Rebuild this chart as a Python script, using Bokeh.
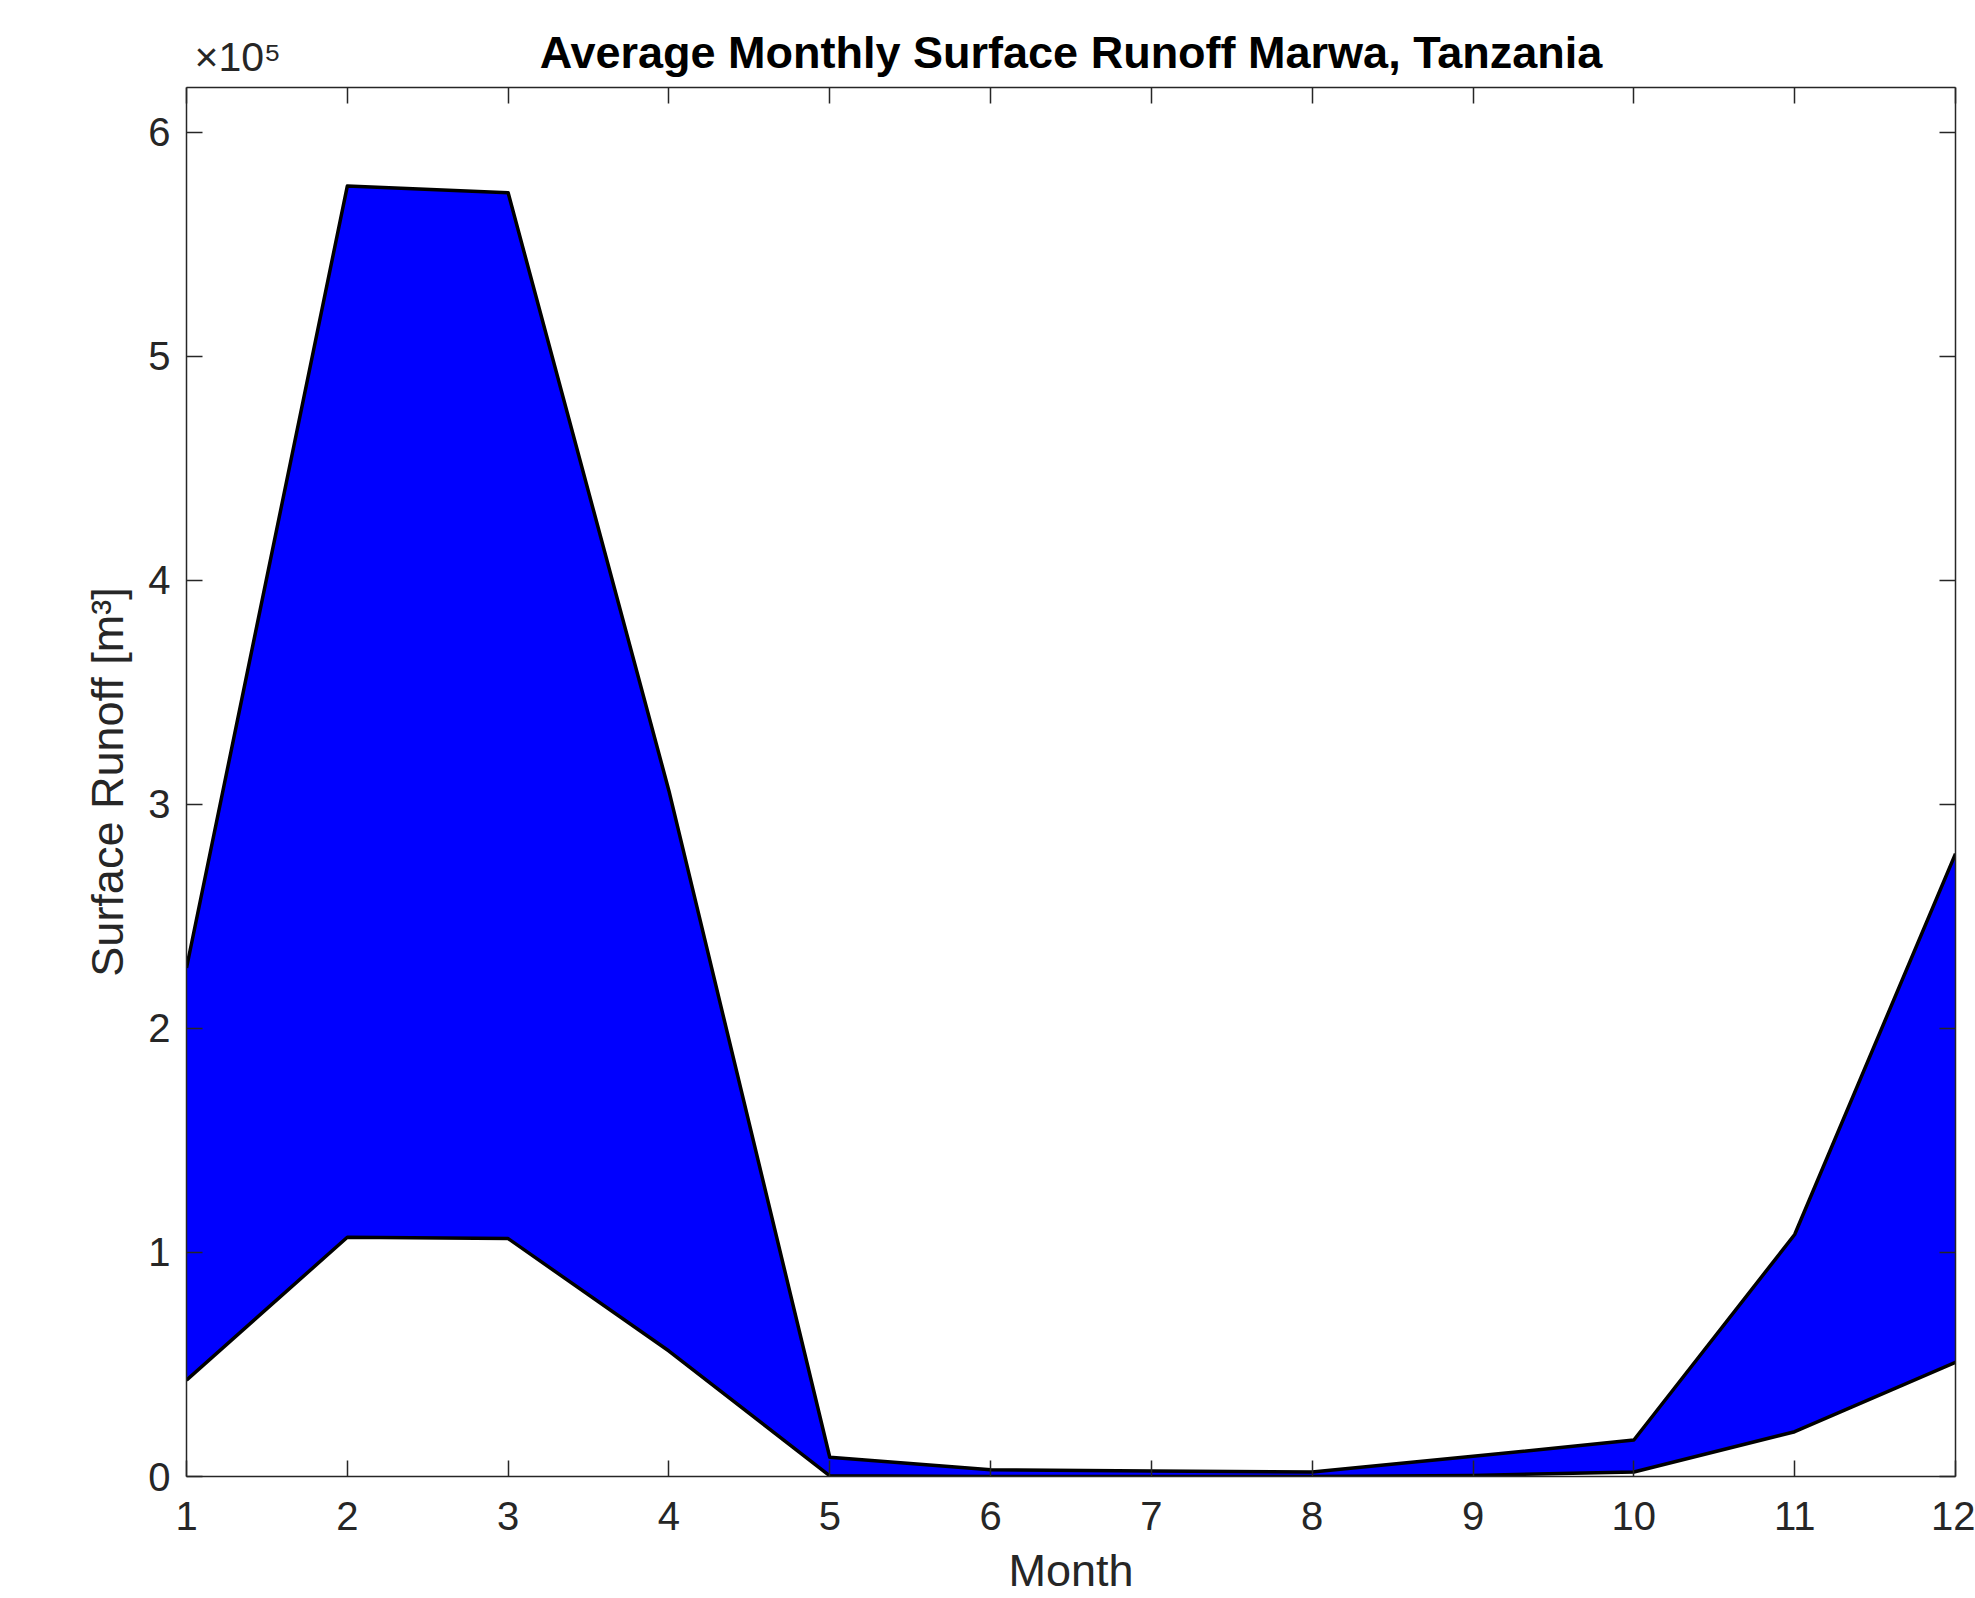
from bokeh.plotting import figure
from bokeh.models import Range1d, LinearAxis, FixedTicker
from bokeh.embed import file_html
from bokeh.resources import INLINE

# ---- data ----
months = [1, 2, 3, 4, 5, 6, 7, 8, 9, 10, 11, 12]
runoff_upper = [227000, 576000, 573000, 306000, 8600, 3000, 2400, 2000, 9000, 16300, 108000, 278000]
runoff_lower = [43000, 106800, 106200, 56000, 300, 0, 0, 0, 500, 2000, 20000, 51000]
y_ticks = [0, 100000, 200000, 300000, 400000, 500000, 600000]
y_tick_labels = ["0", "1", "2", "3", "4", "5", "6"]
x_ticks = months
title_text = "Average Monthly Surface Runoff Marwa, Tanzania"
x_label = "Month"
y_label = "Surface Runoff [m\u00b3]"
exponent_text = "\u00d710\u2075"

FONT = "Liberation Sans"
AX = "#262626"

p = figure(width=1975, height=1598,
           x_range=Range1d(1, 12), y_range=Range1d(0, 620000),
           output_backend="svg", toolbar_location=None,
           min_border_left=186, min_border_right=20,
           min_border_top=87, min_border_bottom=116)
p.outline_line_color = None
p.xgrid.visible = False
p.ygrid.visible = False
p.background_fill_color = "white"
p.border_fill_color = "white"

# filled band between the two runoff curves
p.varea(x=months, y1=runoff_lower, y2=runoff_upper, fill_color="#0000FF")
p.line(months, runoff_upper, line_color="black", line_width=3.5, line_join="round")
p.line(months, runoff_lower, line_color="black", line_width=3.5, line_join="round")

def style_axis(ax, ticks, labels=True):
    ax.ticker = FixedTicker(ticks=ticks)
    ax.axis_line_color = AX
    ax.axis_line_width = 1.5
    ax.major_tick_line_color = AX
    ax.major_tick_line_width = 1.5
    ax.major_tick_in = 16
    ax.major_tick_out = 0
    ax.minor_tick_line_color = None
    ax.major_label_text_font = FONT
    ax.axis_label_text_font = FONT
    ax.axis_label_text_color = AX
    ax.axis_label_text_font_style = "normal"
    if labels:
        ax.major_label_text_color = AX
        ax.major_label_text_font_size = "40px"
        ax.axis_label_text_font_size = "45px"
    else:
        ax.major_label_text_color = None
        ax.major_label_text_font_size = "1px"
        ax.major_label_standoff = 0

xa = p.xaxis[0]
style_axis(xa, x_ticks)
xa.axis_label = x_label
xa.major_label_standoff = 25
xa.axis_label_standoff = 12

ya = p.yaxis[0]
style_axis(ya, y_ticks)
ya.axis_label = y_label
ya.major_label_overrides = {t: l for t, l in zip(y_ticks, y_tick_labels)}
ya.major_label_standoff = 16
ya.axis_label_standoff = 12

# box: top and right axes with inward ticks only
top = LinearAxis()
style_axis(top, x_ticks, labels=False)
p.add_layout(top, "above")
right = LinearAxis()
style_axis(right, y_ticks, labels=False)
p.add_layout(right, "right")

# header row: exponent marker at left, bold title centred over the frame
p.extra_x_ranges = {"head": Range1d(0, 100)}
head = LinearAxis(x_range_name="head")
head.ticker = FixedTicker(ticks=[2.9])
head.major_label_overrides = {2.9: exponent_text}
head.axis_line_color = None
head.major_tick_line_color = None
head.minor_tick_line_color = None
head.major_tick_in = 0
head.major_tick_out = 0
head.major_label_text_font = FONT
head.major_label_text_font_size = "41px"
head.major_label_text_color = AX
head.major_label_standoff = 8
head.axis_label = title_text
head.axis_label_text_font = FONT
head.axis_label_text_font_size = "45px"
head.axis_label_text_font_style = "bold"
head.axis_label_text_color = "black"
head.axis_label_standoff = -47
p.add_layout(head, "above")

open("out.html", "w").write(file_html(p, INLINE))
